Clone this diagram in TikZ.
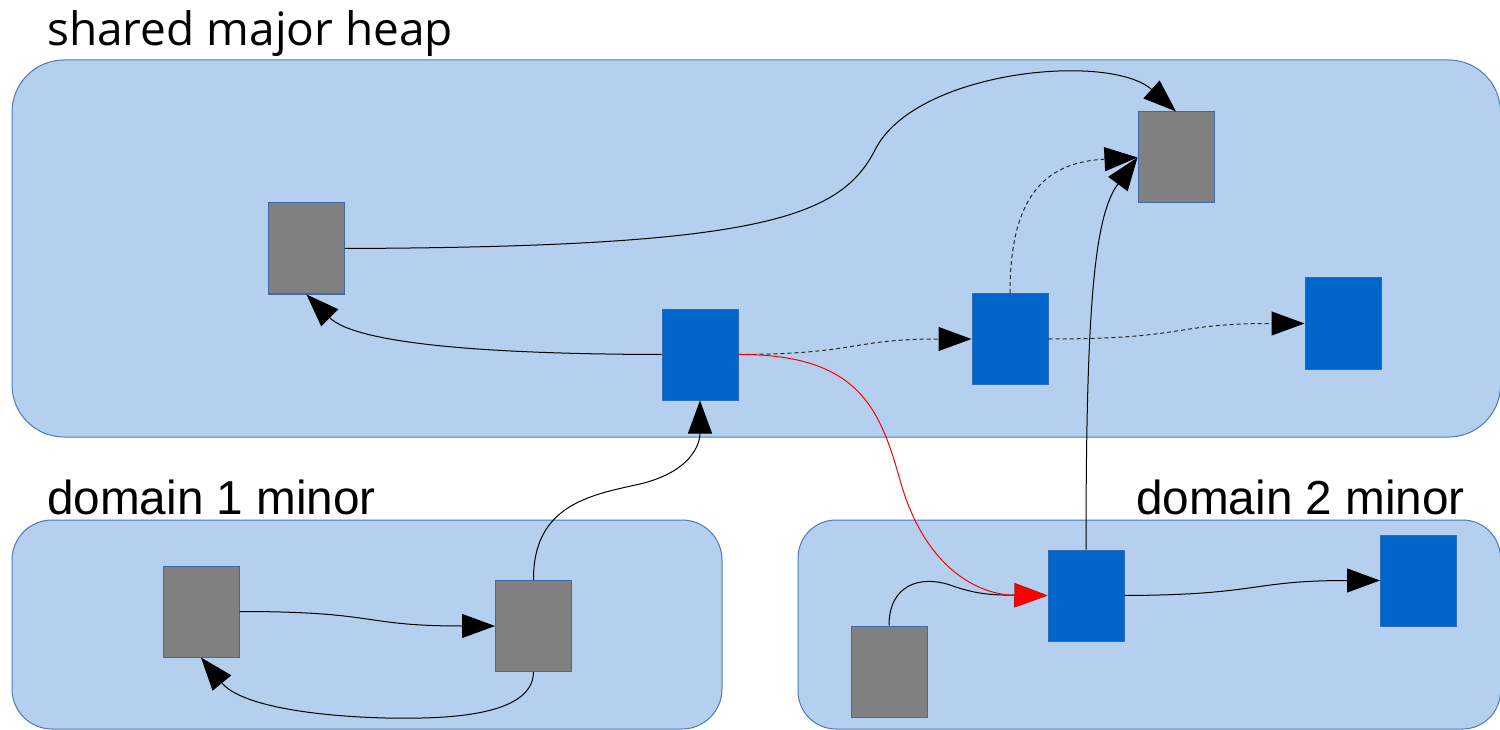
\documentclass[tikz,border=0pt]{standalone}
\usepackage{fontspec}
\setmainfont{Liberation Sans}
\newfontfamily\opensans{Open Sans}
\usetikzlibrary{arrows.meta}
\definecolor{areafill}{RGB}{180,208,238}
\definecolor{areadraw}{RGB}{74,122,184}
\definecolor{objgray}{RGB}{128,128,128}
\definecolor{objblue}{RGB}{0,102,204}
\definecolor{objdraw}{RGB}{62,106,170}
\definecolor{dashcol}{RGB}{40,40,40}
\tikzset{
  area/.style={fill=areafill, draw=areadraw, line width=1pt},
  grayobj/.style={rectangle, fill=objgray, draw=objdraw, line width=1pt, minimum width=76pt, minimum height=91pt, inner sep=0pt},
  blueobj/.style={rectangle, fill=objblue, draw=objdraw!80!objblue, line width=1pt, minimum width=76pt, minimum height=91pt, inner sep=0pt},
  ptr/.style={draw=black, line width=1pt, -{Triangle[length=33pt,width=24pt]}},
  dptr/.style={draw=dashcol, line width=1pt, dash pattern=on 4pt off 3pt, -{Triangle[length=33pt,width=24pt,color=black]}},
  rptr/.style={draw=red, line width=1pt, -{Triangle[length=33pt,width=24pt,color=red]}},
  bigtitle/.style={anchor=base west, inner sep=0pt, font=\opensans\fontsize{46}{54}\selectfont},
  subtitle/.style={anchor=base west, inner sep=0pt, font=\fontsize{47.7}{56}\selectfont},
}
\begin{document}
\begin{tikzpicture}[x=1pt,y=-1pt]
\clip (0,0) rectangle (1500,730);
\fill[white] (0,0) rectangle (1500,730);
% areas
\draw[area, rounded corners=52pt] (12,60) rectangle (1500.5,437);
\draw[area, rounded corners=40pt] (12,520) rectangle (722,729);
\draw[area, rounded corners=38pt] (798,520) rectangle (1500.5,729);
% labels
\node[bigtitle] (lheap) at (47,46) {shared major heap};
\node[subtitle] (ld1) at (47,514) {domain 1 minor};
\node[subtitle] (ld2) at (1136,514) {domain 2 minor};
% heap objects
\node[grayobj] (g1) at (306.5,248.5) {};
\node[grayobj] (g2) at (1176,157.5) {};
\node[blueobj] (b1) at (700,354.5) {};
\node[blueobj] (b2) at (1010,339) {};
\node[blueobj] (b3) at (1343,323.5) {};
% domain 1
\node[grayobj] (da) at (201,611.5) {};
\node[grayobj] (db) at (533.5,626) {};
% domain 2
\node[grayobj] (dc) at (889,671.5) {};
\node[blueobj] (dd) at (1086,595.5) {};
\node[blueobj] (de) at (1418.5,580.5) {};
% connectors
\draw[ptr] (g1.east) .. controls (760,247) and (840,218) .. (875,150)
   .. controls (915,70) and (1110,52) .. (g2.north);
\draw[ptr] (b1.west) .. controls (440,354) and (350,338) .. (g1.south);
\draw[dptr] (b1.east) .. controls (860,354) and (850,339) .. (b2.west);
\draw[dptr] (b2.east) .. controls (1190,339) and (1170,323.5) .. (b3.west);
\draw[dptr] (b2.north) .. controls (1010,190) and (1050,162) .. (g2.west);
\draw[ptr] (dd.north) .. controls (1086,300) and (1095,215) .. (g2.west);
\draw[ptr] (dc.north) .. controls (889,585) and (920,575) .. (950,585)
   .. controls (975,594) and (990,595) .. (dd.west);
\draw[rptr] (b1.east) .. controls (860,354) and (880,410) .. (900,480)
   .. controls (925,570) and (980,595) .. (dd.west);
\draw[ptr] (dd.east) .. controls (1260,595) and (1250,580.5) .. (de.west);
\draw[ptr] (da.east) .. controls (380,611.5) and (360,626) .. (db.west);
\draw[ptr] (db.south) .. controls (533,718) and (440,719) .. (385,718)
   .. controls (310,716) and (240,705) .. (da.south);
\draw[ptr] (db.north) .. controls (533,505) and (590,495) .. (640,484)
   .. controls (690,472) and (700,445) .. (b1.south);
\end{tikzpicture}
\end{document}
